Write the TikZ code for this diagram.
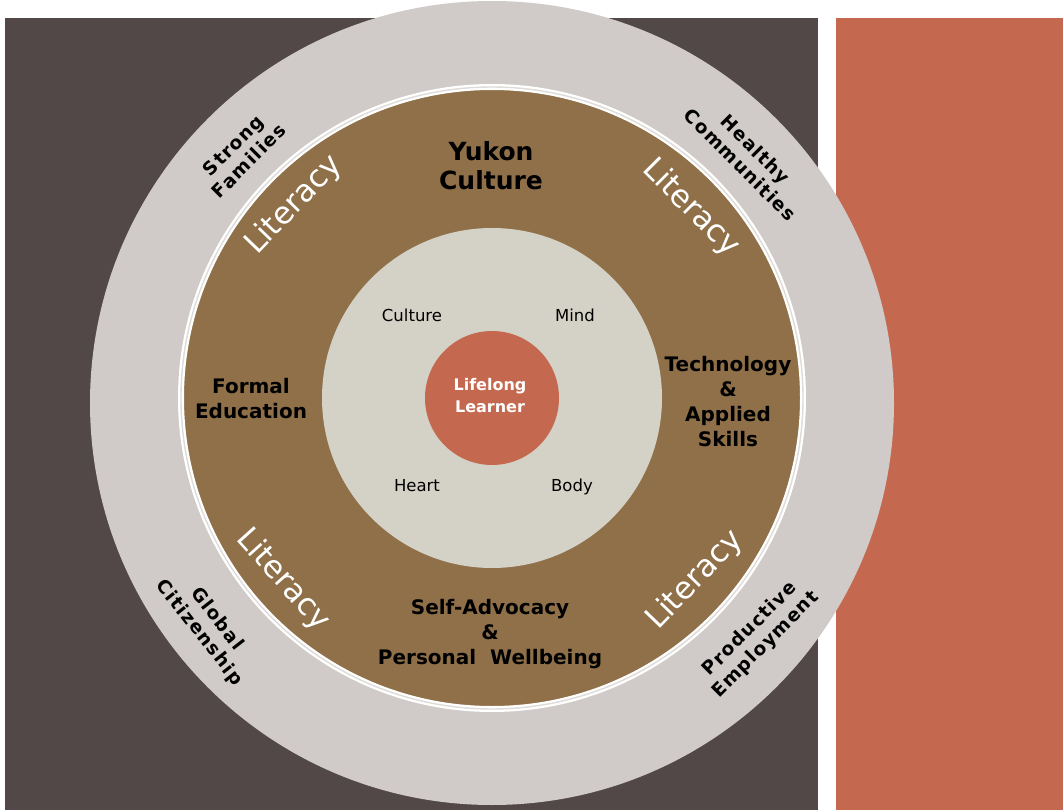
\documentclass[tikz,border=0pt]{standalone}
\usepackage{fontspec}
\setmainfont{DejaVu Sans}
\newfontfamily\ringfont[LetterSpace=7]{DejaVu Sans}

\definecolor{slate}{HTML}{514847}
\definecolor{clay}{HTML}{C4694F}
\definecolor{ash}{HTML}{D0CBC8}
\definecolor{umber}{HTML}{8F7049}
\definecolor{sand}{HTML}{D4D2C6}

\begin{document}
\begin{tikzpicture}[x=1pt,y=-1pt,
  bigword/.style={font=\bfseries\fontsize{20}{25}\selectfont,align=center,text=black},
  ringword/.style={font=\ringfont\bfseries\fontsize{18.5}{22}\selectfont,align=center,text=black},
  litword/.style={font=\fontsize{31}{31}\selectfont,text=white},
  smallword/.style={font=\fontsize{16.5}{20}\selectfont,text=black}]

%Define circle parameters
\def\rout{402}        %Radius of outer ring.
\def\rmid{311}        %Radius of brown ring.
\def\rin{170}         %Radius of inner circle.
\def\rcore{67}        %Radius of the learner.

% Define coordinates
\coordinate (octr) at (492,403);
\coordinate (ctr)  at (492,398);

\useasboundingbox (0,0) rectangle (1063,810);
\fill[white] (0,0) rectangle (1063,810);

% Background panels
\fill[slate] (5,18) rectangle (818,810);
\fill[clay] (836,18) rectangle (1063,810);

% Rings, from outside in
\fill[ash] (octr) circle[radius=\rout pt];
\fill[umber] (ctr) circle[radius=\rmid pt];
\draw[white,line width=6pt] (ctr) circle[radius=\rmid pt];
\draw[ash!70!white,line width=1.4pt] (ctr) circle[radius=\rmid pt];
\fill[sand] (ctr) circle[radius=\rin pt];
\fill[clay] (ctr) circle[radius=\rcore pt];

% Learner and the four parts
\node[font=\bfseries\fontsize{16}{22}\selectfont,align=center,text=white] (learner) at (490,396) {Lifelong\\Learner};
\node[smallword] (culture) at (412,315) {Culture};
\node[smallword] (mind) at (575,315) {Mind};
\node[smallword] (heart) at (417,486) {Heart};
\node[smallword] (body) at (572,487) {Body};

% Brown ring labels
\node[bigword,font=\bfseries\fontsize{25}{29}\selectfont] (yukon) at (491,166) {Yukon\\Culture};
\node[bigword] (formal) at (251,399) {Formal\\Education};
\node[bigword] (tech) at (728,402) {Technology\\\&\\Applied\\Skills};
\node[bigword] (self) at (490,634) {Self-Advocacy\\\&\\Personal\ \ Wellbeing};

% Literacy, four times
\node[litword,rotate=46] (lit1) at (294,205) {Literacy};
\node[litword,rotate=-45] (lit2) at (691,208) {Literacy};
\node[litword,rotate=-48] (lit3) at (283,580) {Literacy};
\node[litword,rotate=46] (lit4) at (695,580) {Literacy};

% Outer ring labels
\node[ringword,rotate=45] (families) at (241,153) {Strong\\Families};
\node[ringword,rotate=-45] (healthy) at (748,157) {Healthy\\Communities};
\node[ringword,rotate=-52] (global) at (208,626) {Global\\Citizenship};
\node[ringword,rotate=45] (employ) at (758,637) {Productive\\Employment};

\end{tikzpicture}
\end{document}
